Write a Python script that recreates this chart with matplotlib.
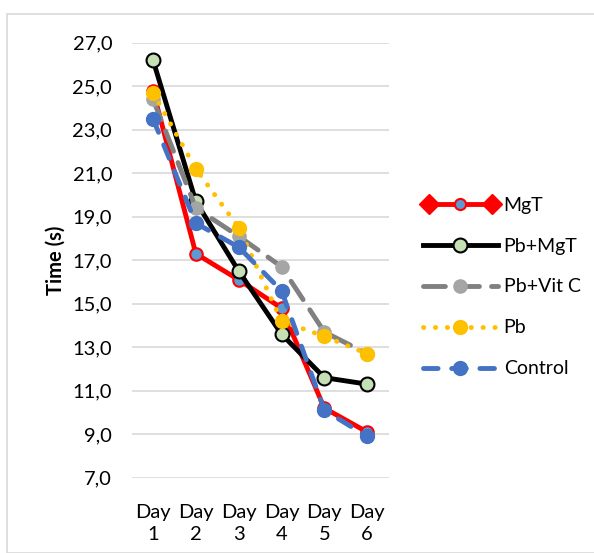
import matplotlib
matplotlib.use("Agg")
import matplotlib.pyplot as plt
from matplotlib.lines import Line2D
from matplotlib.patches import Rectangle
from matplotlib.legend_handler import HandlerLine2D, HandlerTuple

plt.rcParams['font.family'] = ['Lato', 'DejaVu Sans']

days = ["Day\n1", "Day\n2", "Day\n3", "Day\n4", "Day\n5", "Day\n6"]
mgt = [24.8, 17.3, 16.1, 14.8, 10.2, 9.1]
pb_mgt = [26.2, 19.7, 16.5, 13.6, 11.6, 11.3]
pb_vitc = [24.4, 19.4, 18.1, 16.7, 13.7, 12.7]
pb = [24.7, 21.2, 18.5, 14.2, 13.5, 12.7]
control = [23.5, 18.7, 17.6, 15.6, 10.1, 8.9]
yticks = [7, 9, 11, 13, 15, 17, 19, 21, 23, 25, 27]
series_names = ["MgT", "Pb+MgT", "Pb+Vit C", "Pb", "Control"]

W, H = 594, 553
FS = 14.5
fig = plt.figure(figsize=(W / 100, H / 100), dpi=100)
fig.patches.append(Rectangle((7 / W, 0), 1, 1 - 14 / H, transform=fig.transFigure,
                             fill=False, edgecolor='#D9D9D9', linewidth=1.2, zorder=0))

ax = fig.add_axes([131.6 / W, 1 - 477.7 / H, 257 / W, 435 / H])
x = list(range(len(days)))
lw = 3.5

l_mgt, = ax.plot(x, mgt, color='#FF0000', lw=lw, marker='o', ms=9,
                 mfc='#5B9BD5', mec='#FF0000', mew=1.5, zorder=3)
l_pbm, = ax.plot(x, pb_mgt, color='black', lw=lw, marker='o', ms=10,
                 mfc='#C5E0B4', mec='black', mew=1.5, zorder=4)
l_vit, = ax.plot(x, pb_vitc, color='#808080', lw=lw, ls=(0, (4.5, 2.5)),
                 dash_capstyle='round', marker='o', ms=9.5, mfc='#A5A5A5',
                 mec='#A5A5A5', zorder=5)
l_pb, = ax.plot(x, pb, color='#FFC000', lw=lw, ls=(0, (0.05, 2.4)),
                dash_capstyle='round', marker='o', ms=10, mfc='#FFC000',
                mec='#FFC000', zorder=6)
l_ctl, = ax.plot(x, control, color='#4472C4', lw=lw, ls=(0, (3, 2.8)),
                 dash_capstyle='round', marker='o', ms=10, mfc='#4472C4',
                 mec='#4472C4', zorder=7)

ax.set_xlim(-0.5, len(days) - 0.5)
ax.set_ylim(7, 27)
ax.set_yticks(yticks)
ax.set_yticklabels([f"{v:.1f}".replace('.', ',') for v in yticks])
ax.set_xticks(x)
ax.set_xticklabels(days, linespacing=1.35)
ax.tick_params(axis='both', length=0, labelsize=FS, colors='black')
ax.tick_params(axis='y', pad=14)
ax.tick_params(axis='x', pad=19)
ax.grid(axis='y', color='#D9D9D9', lw=1.2)
ax.set_axisbelow(True)
for s in ax.spines.values():
    s.set_visible(False)
ax.set_ylabel("Time (s)", fontsize=FS, fontweight='bold')
ax.yaxis.set_label_coords((66 - 131.6) / 257, 0.5)

# legend handles
mgt_d = Line2D([], [], color='#FF0000', lw=lw, marker='D', ms=10,
               mfc='#FF0000', mec='#FF0000')
mgt_c = Line2D([], [], ls='none', marker='o', ms=8,
               mfc='#5B9BD5', mec='#FF0000', mew=1.5)
handles = [(mgt_d, mgt_c), l_pbm, l_vit, l_pb, l_ctl]
leg = fig.legend(handles, series_names, loc='center left',
                 bbox_to_anchor=(423 / W, 1 - 287 / H), frameon=False,
                 borderaxespad=0, borderpad=0, numpoints=1, handlelength=3.85,
                 handletextpad=0.3, labelspacing=1.23, fontsize=FS - 0.5,
                 handler_map={tuple: HandlerTuple(ndivide=1, pad=0),
                              mgt_d: HandlerLine2D(numpoints=2)})

fig.savefig("out.png", dpi=100)
